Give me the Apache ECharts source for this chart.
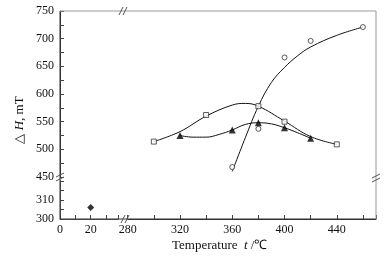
<!DOCTYPE html>
<html>
<head>
	<meta charset="utf-8">
	<title>ΔH vs temperature</title>
	<style type="text/css">
		html, body { margin: 0; padding: 0; background: #fff; }
		#main { width: 392px; height: 258px; }
	</style>
</head>
<body>
<div id="main"></div>
<script src="https://cdn.jsdelivr.net/npm/echarts@6/dist/echarts.min.js"></script>
<script>
    // measured points
    var sqT = [300, 340, 380, 400, 440];
    var sqH = [514, 562, 578, 550, 509];
    var triT = [320, 360, 380, 400, 420];
    var triH = [525, 535, 548, 539, 520];
    var cirT = [360, 380, 400, 420, 460];
    var cirH = [468, 537, 666, 696, 721];
    var dmdT = [20];
    var dmdH = [306];

    // fitted curves
    var sqFitT = [300, 320, 340, 360, 370, 380, 400, 420, 440];
    var sqFitH = [514, 532, 560, 580, 583, 578, 551, 523, 509];
    var triFitT = [320, 330, 340, 350, 360, 370, 380, 390, 400, 410, 420];
    var triFitH = [525, 522, 522, 527, 535, 545, 548, 546, 539, 530, 520];
    var cirFitT = [360, 370, 380, 390, 400, 410, 420, 440, 460];
    var cirFitH = [460, 521, 578, 621, 648, 669, 685, 706, 721];

    function pairs(xs, ys) {
        var out = [];
        for (var i = 0; i < xs.length; i++) {
            out.push([xs[i], ys[i]]);
        }
        return out;
    }

    var font = "'Liberation Serif', 'Times New Roman', serif";
    var axisCol = '#333';
    var frameCol = '#999';

    var myChart = echarts.init(document.getElementById('main'));

    // break mark: two short parallel slanted strokes
    function brk(cx, cy, dx, dy, ox, oy) {
        return [
            { type: 'line', z: 20, shape: { x1: cx - dx - ox, y1: cy + dy - oy, x2: cx + dx - ox, y2: cy - dy - oy }, style: { stroke: '#555', lineWidth: 1 } },
            { type: 'line', z: 20, shape: { x1: cx - dx + ox, y1: cy + dy + oy, x2: cx + dx + ox, y2: cy - dy + oy }, style: { stroke: '#555', lineWidth: 1 } }
        ];
    }

    var graphics = [
        // frame
        { type: 'line', z: 20, shape: { x1: 60, y1: 11, x2: 60, y2: 219 }, style: { stroke: axisCol, lineWidth: 1 } },
        { type: 'line', z: 20, shape: { x1: 60, y1: 219, x2: 376, y2: 219 }, style: { stroke: axisCol, lineWidth: 1 } },
        { type: 'line', z: 20, shape: { x1: 60, y1: 11, x2: 376, y2: 11 }, style: { stroke: frameCol, lineWidth: 1 } },
        { type: 'line', z: 20, shape: { x1: 376, y1: 11, x2: 376, y2: 219 }, style: { stroke: frameCol, lineWidth: 1 } },
        // titles
        {
            type: 'text', x: 172, y: 246,
            style: {
                text: '{a|Temperature}{g|  }{i|t}{a| /℃}',
                verticalAlign: 'middle',
                rich: {
                    a: { fontFamily: font, fontSize: 13, fill: '#111' },
                    g: { fontFamily: font, fontSize: 13 },
                    i: { fontFamily: font, fontSize: 13, fontStyle: 'italic', fill: '#111' }
                }
            }
        },
        {
            type: 'text', x: 20, y: 120, rotation: Math.PI / 2,
            style: {
                text: '{a|△ }{i|H}{a|, mT}',
                align: 'center', verticalAlign: 'middle',
                rich: {
                    a: { fontFamily: font, fontSize: 13, fill: '#111' },
                    i: { fontFamily: font, fontSize: 13, fontStyle: 'italic', fill: '#111' }
                }
            }
        }
    ];
    graphics = graphics.concat(
        brk(123, 11, 2, 4, 2, 0),
        brk(125, 219, 2, 4, 2, 0),
        brk(60, 177, 4, 2, 0, 2),
        brk(376, 178, 4, 2, 0, 2)
    );

    function tick() {
        return { show: true, inside: true, length: 4, lineStyle: { color: '#444', width: 1 } };
    }
    function line() {
        return { show: true, lineStyle: { color: axisCol, width: 1 } };
    }
    function label(extra) {
        return Object.assign({ fontFamily: font, fontSize: 12, color: '#111' }, extra);
    }

    var option = {
        animation: false,
        grid: [
            { left: 127.7, top: 11, width: 248.3, height: 166 },
            { left: 60, top: 180.8, width: 58.3, height: 38.2 }
        ],
        xAxis: [
            {
                gridIndex: 0, type: 'value', min: 280, max: 470, interval: 20,
                offset: 42,
                axisLine: line(), splitLine: { show: false },
                axisTick: tick(),
                axisLabel: label({ margin: 5, formatter: function (v) { return v % 40 === 0 ? v : ''; } })
            },
            {
                gridIndex: 1, type: 'value', min: 0, max: 38, interval: 10,
                splitLine: { show: false },
                axisTick: tick(),
                axisLabel: label({ margin: 5, formatter: function (v) { return (v === 0 || v === 20) ? v : ''; } })
            }
        ],
        yAxis: [
            {
                gridIndex: 0, type: 'value', min: 450, max: 750, interval: 25,
                offset: 67.7,
                axisLine: line(), splitLine: { show: false },
                axisTick: tick(),
                axisLabel: label({ margin: 6, formatter: function (v) { return v % 50 === 0 ? v : ''; } })
            },
            {
                gridIndex: 1, type: 'value', min: 300, max: 320, interval: 5,
                splitLine: { show: false },
                axisTick: tick(),
                axisLabel: label({ margin: 6, formatter: function (v) { return (v === 300 || v === 310) ? v : ''; } })
            }
        ],
        graphic: graphics,
        series: [
            {
                name: 'sq-fit', type: 'line', xAxisIndex: 0, yAxisIndex: 0,
                data: pairs(sqFitT, sqFitH), smooth: 0.4, showSymbol: false,
                lineStyle: { color: '#111', width: 1 }, z: 2
            },
            {
                name: 'tri-fit', type: 'line', xAxisIndex: 0, yAxisIndex: 0,
                data: pairs(triFitT, triFitH), smooth: 0.4, showSymbol: false,
                lineStyle: { color: '#111', width: 1 }, z: 2
            },
            {
                name: 'cir-fit', type: 'line', xAxisIndex: 0, yAxisIndex: 0,
                data: pairs(cirFitT, cirFitH), smooth: 0.4, showSymbol: false,
                lineStyle: { color: '#111', width: 1 }, z: 2
            },
            {
                name: 'sq', type: 'scatter', xAxisIndex: 0, yAxisIndex: 0,
                data: pairs(sqT, sqH), symbol: 'rect', symbolSize: 5,
                itemStyle: { color: '#fff', borderColor: '#333', borderWidth: 1 }, z: 5
            },
            {
                name: 'tri', type: 'scatter', xAxisIndex: 0, yAxisIndex: 0,
                data: pairs(triT, triH), symbol: 'triangle', symbolSize: 7,
                itemStyle: { color: '#000' }, z: 5
            },
            {
                name: 'cir', type: 'scatter', xAxisIndex: 0, yAxisIndex: 0,
                data: pairs(cirT, cirH), symbol: 'circle', symbolSize: 5,
                itemStyle: { color: '#fff', borderColor: '#333', borderWidth: 1 }, z: 5
            },
            {
                name: 'dmd', type: 'scatter', xAxisIndex: 1, yAxisIndex: 1,
                data: pairs(dmdT, dmdH), symbol: 'diamond', symbolSize: 7,
                itemStyle: { color: '#000' }, z: 5
            }
        ]
    };

    myChart.setOption(option);
</script>
</body>
</html>
